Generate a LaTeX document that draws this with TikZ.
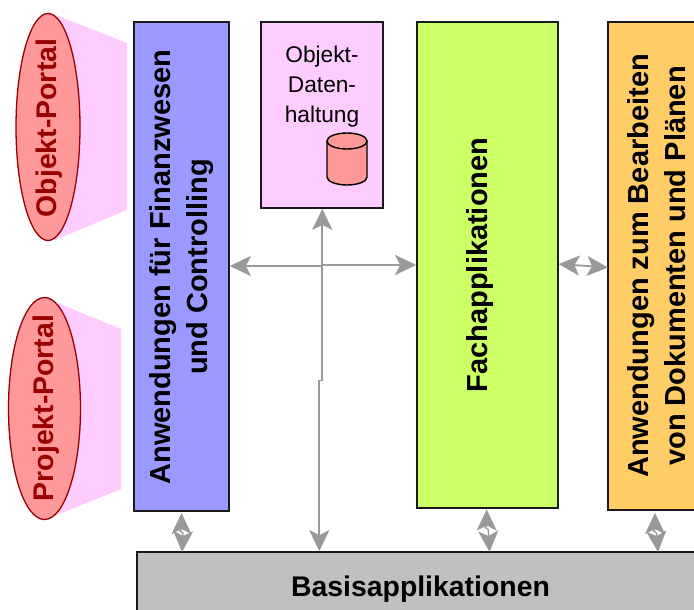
\documentclass[tikz,border=0pt]{standalone}
\usepackage{fontspec}
\setmainfont{Liberation Sans}
\usetikzlibrary{arrows.meta}
\definecolor{pinkbg}{HTML}{FFCCFF}
\definecolor{portalfill}{HTML}{FF9999}
\definecolor{portalline}{HTML}{990000}
\definecolor{bluebox}{HTML}{9999FF}
\definecolor{greenbox}{HTML}{CCFF66}
\definecolor{orangebox}{HTML}{FFCC66}
\definecolor{greybox}{HTML}{C0C0C0}
\definecolor{conn}{HTML}{999999}
\tikzset{
  box/.style={draw=black!90,line width=1.7pt,inner sep=0pt,align=center},
  boxtext/.style={font=\fontsize{29}{37}\selectfont\bfseries,align=center},
  portal/.style={draw=portalline,fill=portalfill,line width=1.3pt},
  portaltext/.style={text=portalline,font=\fontsize{28.4}{34}\selectfont\bfseries},
  tipA/.tip={Stealth[length=21pt,width=20pt,inset=5pt]},
  conn2/.style={draw=conn,line width=1.8pt,tipA-tipA},
  conn1/.style={draw=conn,line width=1.8pt,-tipA}
}
\begin{document}
\begin{tikzpicture}[x=1pt,y=-1pt]
\useasboundingbox (0,0) rectangle (694,610);
% funnels
\fill[pinkbg] (48,12) -- (127,43) -- (127,210) -- (55,240) -- cycle;
\fill[pinkbg] (53,301) -- (121,329) -- (121,489) -- (57,515) -- cycle;
% portals
\draw[portal] (48,127) ellipse [x radius=32,y radius=113.5];
\draw[portal] (44.5,408.5) ellipse [x radius=36,y radius=111];
\node[portaltext,rotate=90] (op) at (49,128) {Objekt-Portal};
\node[portaltext,rotate=90] (pp) at (46,408) {Projekt-Portal};
% boxes
\path[clip] (0,0) rectangle (694,610);
\node[box,fill=bluebox,minimum width=95pt,minimum height=489pt] (fin) at (181.5,266.5) {};
\node[boxtext,rotate=90] (fint) at (182,267) {Anwendungen für Finanzwesen\\und Controlling};
\node[box,fill=pinkbg,minimum width=122pt,minimum height=186pt] (dat) at (322,115) {};
\node[align=center,font=\fontsize{22.7}{30}\selectfont,anchor=north] (datt) at (322,43) {Objekt-\\Daten-\\haltung};
\node[box,fill=greenbox,minimum width=141pt,minimum height=486pt] (fach) at (487.5,265) {};
\node[boxtext,rotate=90] (facht) at (480,265) {Fachapplikationen};
\node[box,fill=orangebox,minimum width=100pt,minimum height=488pt] (dok) at (658,266) {};
\node[boxtext,rotate=90] (dokt) at (657,266) {Anwendungen zum Bearbeiten\\von Dokumenten und Plänen};
\node[box,fill=greybox,minimum width=580pt,minimum height=80pt] (bas) at (427,592) {};
\node[font=\fontsize{28.4}{34}\selectfont\bfseries] (bast) at (420.5,589) {Basisapplikationen};
% cylinder
\draw[fill=portalfill,line width=1.4pt] (327,141) -- (327,177) arc[start angle=180,end angle=360,x radius=20,y radius=-8] -- (367,141);
\draw[fill=portalfill,line width=1.4pt] (347,141) ellipse [x radius=20,y radius=8];
% connectors
\coordinate (hub) at (322.3,265);
\coordinate (j1) at (322.3,380.5);
\coordinate (j2) at (319.3,380.5);
\draw[conn1] (hub) -- (hub|-dat.south) ;
\draw[conn1] (hub) -- (j1) -- (j2) -- (j2|-bas.north);
\coordinate (hl) at (322.3,266);
\coordinate (hr) at (322.3,265);
\draw[draw=conn,line width=1.8pt,tipA-] (fin.east|-hl) -- (hl);
\draw[conn1] (hr) -- (fach.west|-hr);
\coordinate (l1) at (558.5,264);
\coordinate (l2) at (608,267.5);
\draw[conn2] (l1) -- (l2);
% short connectors
\coordinate (a1) at (181.5,513);
\coordinate (a2) at (182,552);
\coordinate (b1) at (486.7,509.5);
\coordinate (b2) at (489.5,552);
\coordinate (c1) at (655,513);
\coordinate (c2) at (658,552);
\draw[conn2,line width=1.3pt] (a1) -- ++(0,16.5) -- ++(-1.5,1.5) -- ++(3,2) -- (a2);
\draw[conn2,line width=1.3pt] (b1) -- ++(0,16.5) -- ++(-1.5,1.5) -- ++(3,2) -- (b2);
\draw[conn2,line width=1.3pt] (c1) -- ++(0,16.5) -- ++(-1.5,1.5) -- ++(3,2) -- (c2);
\end{tikzpicture}
\end{document}
